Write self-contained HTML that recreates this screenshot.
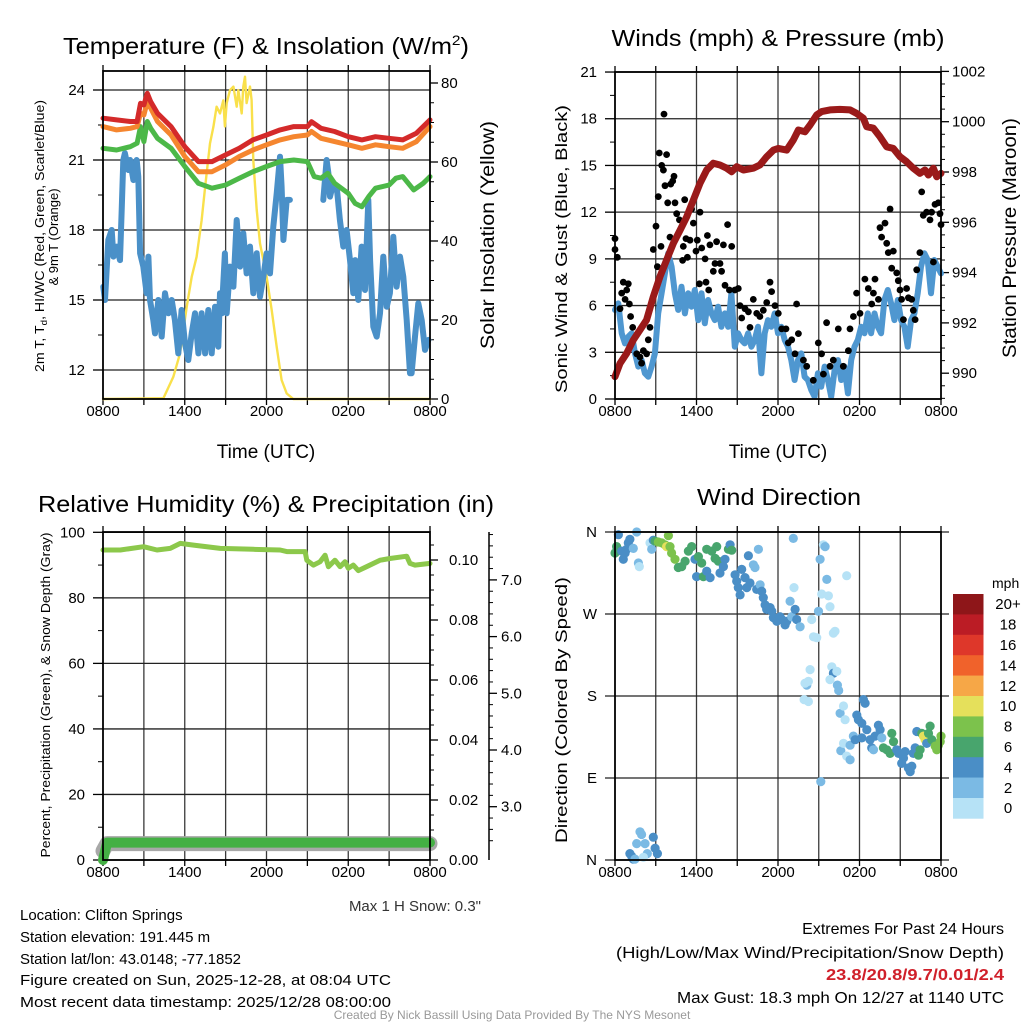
<!DOCTYPE html>
<html><head><meta charset="utf-8"><title>Mesonet station meteogram</title>
<style>
html,body{margin:0;padding:0;background:#fff;}
svg{display:block;font-family:"Liberation Sans",Arial,sans-serif;}
</style></head>
<body>
<svg id="chart" xmlns="http://www.w3.org/2000/svg" width="1024" height="1024" viewBox="0 0 1024 1024">
<rect x="0" y="0" width="1024" height="1024" fill="#fff"/>
<text x="266" y="54" text-anchor="middle" font-size="23" textLength="406" lengthAdjust="spacingAndGlyphs">Temperature (F) &amp; Insolation (W/m<tspan font-size="14" dy="-9">2</tspan><tspan dy="9">)</tspan></text>
<text x="778" y="46" text-anchor="middle" font-size="23" textLength="333" lengthAdjust="spacingAndGlyphs">Winds (mph) &amp; Pressure (mb)</text>
<text x="266" y="512" text-anchor="middle" font-size="23" textLength="456" lengthAdjust="spacingAndGlyphs">Relative Humidity (%) &amp; Precipitation (in)</text>
<text x="779" y="505" text-anchor="middle" font-size="23" textLength="164" lengthAdjust="spacingAndGlyphs">Wind Direction</text>

<text transform="translate(44,236) rotate(-90)" text-anchor="middle" font-size="13" textLength="272" lengthAdjust="spacingAndGlyphs">2m T, T<tspan font-size="9" dy="3">d</tspan><tspan dy="-3">, HI/WC (Red, Green, Scarlet/Blue)</tspan></text>
<text transform="translate(58,237) rotate(-90)" text-anchor="middle" font-size="13">&amp; 9m T (Orange)</text>
<text transform="translate(494,235) rotate(-90)" text-anchor="middle" font-size="19" textLength="228" lengthAdjust="spacingAndGlyphs">Solar Insolation (Yellow)</text>
<text transform="translate(567,249) rotate(-90)" text-anchor="middle" font-size="17" textLength="288" lengthAdjust="spacingAndGlyphs">Sonic Wind &amp; Gust (Blue, Black)</text>
<text transform="translate(1016,238) rotate(-90)" text-anchor="middle" font-size="19" textLength="240" lengthAdjust="spacingAndGlyphs">Station Pressure (Maroon)</text>
<text transform="translate(50,695) rotate(-90)" text-anchor="middle" font-size="13" textLength="325" lengthAdjust="spacingAndGlyphs">Percent, Precipitation (Green), &amp; Snow Depth (Gray)</text>
<text transform="translate(567,710) rotate(-90)" text-anchor="middle" font-size="17" textLength="266" lengthAdjust="spacingAndGlyphs">Direction (Colored By Speed)</text>

<text x="266" y="458" text-anchor="middle" font-size="19">Time (UTC)</text>
<text x="778" y="458" text-anchor="middle" font-size="19">Time (UTC)</text>
<text x="481" y="911" text-anchor="end" font-size="15" fill="#333">Max 1 H Snow: 0.3"</text>

<g font-size="15">
<text x="20" y="920">Location: Clifton Springs</text>
<text x="20" y="942">Station elevation: 191.445 m</text>
<text x="20" y="964">Station lat/lon: 43.0148; -77.1852</text>
<text x="20" y="985" textLength="371" lengthAdjust="spacingAndGlyphs">Figure created on Sun, 2025-12-28, at 08:04 UTC</text>
<text x="20" y="1007" textLength="371" lengthAdjust="spacingAndGlyphs">Most recent data timestamp: 2025/12/28 08:00:00</text>
</g>
<g font-size="16" text-anchor="end">
<text x="1004" y="934">Extremes For Past 24 Hours</text>
<text x="1004" y="958" textLength="388" lengthAdjust="spacingAndGlyphs">(High/Low/Max Wind/Precipitation/Snow Depth)</text>
<text x="1004" y="980" font-weight="bold" fill="#d0202a" textLength="178" lengthAdjust="spacingAndGlyphs">23.8/20.8/9.7/0.01/2.4</text>
<text x="1004" y="1003" textLength="327" lengthAdjust="spacingAndGlyphs">Max Gust: 18.3 mph On 12/27 at 1140 UTC</text>
</g>
<text x="512" y="1019" text-anchor="middle" font-size="12" fill="#999">Created By Nick Bassill Using Data Provided By The NYS Mesonet</text>
</svg>
<script>
// ---------- DATA ----------
const timeTickLabels = ["0800","1400","2000","0200","0800"];
const tempTicks = [12,15,18,21,24];
const solarTicks = [0,20,40,60,80];
const windTicks = [0,3,6,9,12,15,18,21];
const pressTicks = [990,992,994,996,998,1000,1002];
const rhTicks = [0,20,40,60,80,100];
const precipTicks = [0,0.02,0.04,0.06,0.08,0.10];
const snowTicks = [3,4,5,6,7];
const dirTicks = [0,90,180,270,360];
const dirTickLabels = ["N","E","S","W","N"];
const speedBins = ["0","2","4","6","8","10","12","14","16","18","20+"];
const speedColors = ["#b6e2f6","#7bbae4","#4a8ec6","#48a56d","#7cc24c","#e5e05b","#f6a747","#f0622b","#de372a","#bb1c25","#8e1619"];

const tempHours = [0,1,2,2.5,2.75,3,3.25,3.5,4,5,6,7,8,9,10,11,12,13,14,15,15.3,16,17,18,19,20,21,22,23,24];
const temp2m = [22.79,22.72,22.65,22.65,23.43,23.36,23.86,23.5,23.0,22.43,21.57,20.93,20.93,21.22,21.5,21.86,22.07,22.29,22.43,22.43,22.64,22.36,22.22,22.0,21.86,22.0,21.93,21.86,22.15,22.72];
const temp9m = [22.43,22.29,22.36,22.43,23.0,22.93,23.5,23.22,22.65,22.07,21.15,20.5,20.5,20.79,21.15,21.43,21.65,21.86,22.0,22.07,22.22,21.93,21.79,21.65,21.5,21.65,21.57,21.5,21.79,22.43];
const dewHours = [0,1,2,2.5,2.75,3,3.25,3.5,4,5,6,7,8,9,10,11,12,13,14,15,15.5,16,16.5,17,18,18.5,19,19.5,20,21,21.5,22,22.8,23.5,24];
const dewpoint = [21.5,21.43,21.57,21.72,22.43,21.79,22.65,22.36,21.93,21.5,20.72,20.0,19.79,19.93,20.22,20.5,20.72,20.93,21.0,20.93,20.29,20.22,20.43,20.0,19.57,19.14,19.0,19.43,19.79,19.93,20.22,20.29,19.72,20.0,20.29];
const hiHours = [0.02,0.15,0.39,0.64,0.76,1.0,1.25,1.37,1.49,1.61,1.86,1.98,2.23,2.35,2.47,2.59,2.72,2.96,3.2,3.33,3.45,3.69,3.82,4.06,4.31,4.55,4.8,5.04,5.28,5.53,5.77,6.02,6.26,6.51,6.75,7.0,7.24,7.49,7.73,7.98,8.22,8.46,8.59,8.71,8.95,9.08,9.32,9.57,9.81,10.06,10.3,10.54,10.79,11.03,11.28,11.52,11.77,12.01,12.26,12.5,12.75,12.99,13.11,13.24,13.48,13.72,14.9,16.17,16.41,16.54,16.66,16.9,17.15,17.39,17.64,17.88,18.13,18.37,18.5,18.74,18.98,19.23,19.47,19.6,19.84,20.09,20.33,20.57,20.82,21.06,21.31,21.55,21.8,22.04,22.29,22.53,22.65,22.9,23.14,23.39,23.63,23.88];
const heatIndexWindChill = [15.57,15.0,17.57,18.0,16.86,17.29,16.71,18.86,21.0,21.29,20.57,21.0,20.14,20.86,21.0,20.29,17.0,16.43,15.29,16.86,15.0,14.14,13.57,15.0,13.43,15.29,14.43,15.0,14.14,12.71,14.57,13.14,12.43,13.57,14.43,12.71,14.43,12.71,14.57,12.71,14.71,13.0,15.29,14.43,17.0,14.43,16.43,15.57,18.43,16.43,17.86,16.14,17.29,15.29,17.0,15.14,16.0,17.0,16.14,18.14,19.57,21.14,19.86,17.57,19.29,19.29,null,19.29,21.0,20.43,19.43,20.0,19.86,18.43,17.29,18.0,16.71,15.29,16.71,15.0,17.29,15.43,19.29,16.71,13.86,13.43,14.43,16.86,14.71,15.29,17.71,15.57,16.86,16.0,14.14,11.86,11.86,13.43,14.86,14.14,12.86,13.29];
const solarHours = [0,4.43,5.16,5.65,6.14,6.51,6.87,7.24,7.49,7.85,8.1,8.34,8.59,8.83,8.95,9.08,9.32,9.57,9.81,9.93,10.18,10.3,10.42,10.54,10.79,10.91,11.03,11.28,11.52,12.01,12.38,12.75,13.11,13.48,13.97,24];
const solar = [0,0.2,5.6,11.5,23.3,30.9,36,45.2,53.6,64.7,68.9,74,72.3,75.6,69,74.9,78.2,79.1,74,78.2,72.3,79.1,81.6,74.9,79.1,75.7,60.5,47.9,39.4,31,22.5,13.2,4.8,1.4,0,0];

const windSpeed = [5.72,6.14,4.22,3.57,4.0,4.22,2.93,2.08,2.5,1.65,1.43,2.08,2.93,5.5,6.79,8.07,9.36,8.5,6.79,5.72,7.21,5.5,6.79,5.93,7.0,5.07,6.79,4.86,6.36,5.5,5.07,5.93,4.64,5.5,4.64,6.79,3.36,4.22,3.79,3.57,4.22,3.36,3.79,4.64,1.65,4.22,5.07,4.64,5.5,4.22,4.64,3.79,3.36,2.5,1.22,2.5,2.93,1.43,1.22,0.58,0.15,1.65,0.79,2.08,1.22,0.15,1.86,2.5,1.22,2.08,0.36,2.5,3.36,3.79,4.64,4.22,5.5,4.22,5.5,4.64,4.22,6.36,7.0,6.14,5.07,6.36,5.07,4.64,3.36,5.07,5.5,6.79,8.5,9.36,8.93,6.79,8.93,8.5,8.07];
const gustHours = [0,0,0.17,0.37,0.49,0.61,0.74,0.86,0.98,1.06,1.15,1.3,1.6,1.84,1.96,2.09,2.33,2.45,2.58,2.82,3.02,3.12,3.19,3.26,3.39,3.44,3.56,3.61,3.68,3.8,3.88,4.05,4.1,4.25,4.34,4.42,4.54,4.74,4.98,5.03,5.13,5.23,5.33,5.52,5.64,5.77,5.96,6.06,6.21,6.26,6.38,6.63,6.7,6.8,6.9,6.99,7.24,7.36,7.48,7.73,7.85,7.98,8.1,8.29,8.42,8.59,8.83,9.08,9.2,9.33,9.57,9.82,9.94,10.18,10.43,10.67,10.92,11.17,11.41,11.53,11.78,12.02,12.27,12.59,12.76,13.01,13.25,13.37,13.5,13.87,14.11,14.6,14.97,15.21,15.34,15.58,15.83,16.07,16.44,16.81,17.18,17.3,17.55,17.79,18.04,18.4,18.65,18.9,19.02,19.14,19.39,19.51,19.63,19.88,20.0,20.12,20.25,20.37,20.49,20.74,20.86,20.98,21.1,21.23,21.47,21.6,21.84,21.96,22.09,22.21,22.45,22.58,22.7,22.94,23.19,23.31,23.44,23.56,23.8,23.93,24];
const gustSpeed = [10.3,9.6,9.1,5.8,6.8,7.5,6.4,7.0,7.4,6.1,5.3,4.6,2.9,2.7,2.3,3.1,2.9,3.8,4.6,9.6,11.1,8.5,13.0,15.8,9.8,15.0,14.7,18.3,13.7,15.7,12.6,10.4,13.8,14.0,14.3,12.6,11.9,11.5,8.9,9.8,12.8,10.3,9.1,10.2,12.2,11.3,9.5,10.2,7.4,12.0,9.7,9.0,7.5,10.5,7.0,9.9,8.2,8.7,10.1,8.7,8.2,9.9,7.3,11.2,7.0,9.8,7.0,7.1,6.0,5.2,5.8,5.6,4.6,6.4,5.5,5.3,5.7,6.2,7.5,6.9,6.0,5.5,4.5,4.5,3.6,3.8,2.9,6.1,4.2,2.5,2.1,1.2,3.6,2.9,1.6,4.9,2.1,2.5,4.5,2.1,3.1,4.5,5.3,6.8,5.5,7.7,7.1,6.1,6.8,7.7,6.4,11.0,10.4,11.3,10.0,9.4,12.2,8.4,9.5,8.1,7.6,7.0,6.4,5.1,7.1,6.5,6.4,5.7,5.1,8.3,9.4,13.3,11.8,12.0,11.5,12.0,8.8,12.5,12.6,11.9,11.2];
const pressHours = [0,0.37,0.86,1.35,1.84,2.33,2.82,3.31,3.8,4.29,4.79,5.28,5.77,6.26,6.75,7.24,7.73,8.22,8.59,8.96,9.45,10.18,10.67,11.17,11.66,12.02,12.64,13.13,13.5,13.99,14.36,14.85,15.21,15.83,16.56,17.3,17.79,18.28,18.53,19.02,19.51,20.0,20.49,20.98,21.47,21.96,22.45,22.82,23.07,23.44,23.68,24];
const pressure = [989.86,990.39,990.79,991.32,991.72,992.12,993.04,993.84,994.5,995.16,995.69,996.22,996.89,997.55,998.08,998.35,998.28,998.15,998.01,998.21,998.08,998.15,998.28,998.61,998.87,998.94,998.87,999.27,999.67,999.6,999.87,1000.27,1000.4,1000.47,1000.49,1000.47,1000.33,1000.14,999.8,999.74,999.4,999.0,998.94,998.61,998.41,998.15,997.95,998.08,997.88,998.15,997.81,997.95];

const rhHours = [0,1.27,2.98,3.96,4.93,5.67,6.64,8.6,11.04,13.0,13.49,14.83,14.96,15.44,15.93,16.3,16.54,17.03,17.4,17.76,18.0,18.37,18.74,19.35,20.33,21.06,22.29,22.53,22.9,24];
const relHumidity = [94.6,94.6,95.6,94.6,95.1,96.6,96.1,95.1,94.8,94.6,94.1,94.1,91.5,90.0,91.0,93.0,89.5,91.5,89.5,91.0,89.0,90.0,88.3,89.5,91.5,92.0,92.7,90.5,90.0,90.5];
const precipHours = [0,0.3,24];
const precip = [0,0.0058,0.0058];
const snowHours = [0,0.3,24];
const snowDepth = [2.22,2.35,2.35];

const dirHours = [0,0.12,0.25,0.49,0.61,0.74,0.86,0.98,1.1,1.35,1.6,1.72,1.79,2.58,2.7,2.82,2.95,3.19,3.44,3.68,3.8,3.93,4.05,4.17,4.42,4.66,4.91,5.16,5.4,5.65,5.89,6.01,6.14,6.38,6.51,6.75,7.0,6.75,7.12,7.49,7.37,7.61,7.73,7.98,8.1,8.35,8.47,8.59,8.84,8.96,9.08,9.21,9.33,9.57,9.7,9.82,9.94,10.19,10.31,10.43,10.56,10.68,10.8,10.92,11.05,11.17,11.42,11.54,11.66,11.91,12.15,12.28,12.52,12.64,12.89,13.01,13.13,13.18,13.26,13.38,13.63,14.12,13.99,14.24,14.36,14.24,13.92,14.48,14.61,14.85,14.98,15.1,15.22,15.34,15.47,15.59,15.71,15.83,16.08,16.2,15.96,16.08,15.83,16.33,16.37,16.47,16.57,16.82,16.94,17.06,16.62,16.82,17.06,17.31,17.31,17.55,17.68,17.8,17.92,18.17,18.29,18.41,18.17,18.54,18.78,18.9,19.03,19.15,19.39,19.52,19.64,19.76,20.01,20.25,20.38,20.5,20.74,20.87,21.11,21.24,21.36,21.6,21.73,21.85,21.97,22.1,22.22,22.34,22.46,22.59,22.71,22.83,22.95,23.08,23.2,23.32,23.57,23.69,23.81,23.94,24.0,15.15,1.1,1.23,1.35,1.47,1.6,1.84,1.96,2.21,2.38,2.09,2.82,2.95,3.12];
const dirDegrees = [337,344,357,339,330,337,341,348,352,342,360,326,322,348,341,351,350,349,348,346,344,356,344,337,330,321,322,328,339,344,330,311,333,326,311,317,310,341,339,344,331,328,315,322,330,341,346,340,313,306,299,291,319,310,299,334,304,324,321,297,341,302,295,288,280,275,277,273,266,262,267,264,258,262,284,267,353,299,275,264,256,192,194,196,209,174,176,264,245,244,273,330,292,346,344,308,290,278,249,251,212,205,198,207,192,186,161,169,154,312,120,128,114,110,126,136,132,159,154,134,176,172,150,143,132,123,121,136,148,143,134,123,121,117,139,130,121,117,106,112,119,101,97,103,117,123,141,115,121,139,136,132,128,139,147,132,125,121,126,130,136,86,7,4,1,1,18,31,28,18,7,3,25,13,7];
const dirSpeed = [7,7,5,5,5,5,5,5,5,3,3,3,1,1,3,5,7,9,9,9,11,9,9,9,9,7,7,7,7,7,5,5,7,7,7,5,5,7,7,7,7,7,5,5,5,7,5,7,5,5,5,5,5,5,5,5,5,3,3,5,3,3,5,5,5,5,5,5,5,5,5,5,5,5,3,3,3,1,5,5,3,3,1,1,1,1,1,1,1,1,3,3,1,1,3,3,1,1,1,1,1,5,1,1,3,3,3,1,1,1,3,1,1,3,3,3,5,5,5,5,5,5,5,5,5,5,3,5,5,5,3,7,7,7,7,7,5,5,5,5,5,5,5,5,5,5,5,7,7,7,11,11,5,7,7,7,9,9,9,9,9,3,5,5,5,3,3,3,3,3,3,1,5,5,5];

// ---------- HELPERS ----------
const NS = "http://www.w3.org/2000/svg";
const svg = document.getElementById("chart");
function mk(tag, parent){ const e = document.createElementNS(NS, tag); (parent||svg).appendChild(e); return e; }
function seg(p, x1,y1,x2,y2, stroke, w){ const e = mk("line", p); e.setAttribute("x1",x1); e.setAttribute("y1",y1); e.setAttribute("x2",x2); e.setAttribute("y2",y2); e.setAttribute("stroke",stroke); e.setAttribute("stroke-width",w); return e; }
function txt(p, x, y, s, anchor, size){ const e = mk("text", p); e.setAttribute("x",x); e.setAttribute("y",y); e.setAttribute("text-anchor",anchor); e.setAttribute("font-size",size||15); e.textContent = s; return e; }
function pathD(xs, ys, sx, sy){ let d="", pen=false; for(let i=0;i<xs.length;i++){ if(ys[i]===null){pen=false;continue;} d += (pen?"L":"M") + sx(xs[i]).toFixed(1) + "," + sy(ys[i]).toFixed(1); pen=true; } return d; }
function series(p, xs, ys, sx, sy, color, w, name){ const e = mk("path", p); e.setAttribute("d", pathD(xs,ys,sx,sy)); e.setAttribute("fill","none"); e.setAttribute("stroke",color); e.setAttribute("stroke-width",w); e.setAttribute("stroke-linejoin","round"); e.setAttribute("stroke-linecap","round");
  
  
  return e; }

function frame(P, name){
  const g = mk("g");
  
  
  for(let h=0; h<=24; h+=3){
    const x = P.sx(h);
    if(h>0 && h<24){ const gl = seg(g, x, P.y0, x, P.y1, "#3a3a3a", 1.3);
      
       }
    const t1 = seg(g, x, P.y0, x, P.y0-6, "#000", 1.3);
    
    
    const t2 = seg(g, x, P.y1, x, P.y1+6, "#000", 1.3);
    
    
  }
  timeTickLabels.forEach((s,i)=>{ const l = txt(g, P.sx(i*6), P.y1+17, s, "middle", 15);
    
     });
  return g;
}
function box(g, P){ const r = mk("rect", g); r.setAttribute("x",P.x0); r.setAttribute("y",P.y0); r.setAttribute("width",P.x1-P.x0); r.setAttribute("height",P.y1-P.y0); r.setAttribute("fill","none"); r.setAttribute("stroke","#000"); r.setAttribute("stroke-width",1.8);
  
   }
function leftAxis(g, P, ticks, labels, minorStep, lo, hi, sy, grid){
  ticks.forEach((v,i)=>{ const y = sy(v);
    if(grid){ const gl = seg(g, P.x0, y, P.x1, y, "#222", 1.3);
      
       }
    const t = seg(g, P.x0-10, y, P.x0, y, "#000", 1.3);
    
    
    const l = txt(g, P.x0-18, y+5, labels[i], "end", 15);
    
     });
  if(minorStep){ for(let v=lo; v<=hi+1e-9; v+=minorStep){ if(ticks.some(t=>Math.abs(t-v)<1e-6)) continue; const y=sy(v); if(y<P.y0-0.5||y>P.y1+0.5) continue;
    const m = seg(g, P.x0-5, y, P.x0, y, "#000", 1);
    
     } }
}
function rightAxis(g, ax, y0, y1, ticks, labels, minorStep, lo, hi, sy, labelX){
  ticks.forEach((v,i)=>{ const y = sy(v);
    const t = seg(g, ax, y, ax+8, y, "#000", 1.3);
    
    
    const l = txt(g, labelX, y+5, labels[i], "start", 15);
    
     });
  for(let v=lo; v<=hi+1e-9; v+=minorStep){ if(ticks.some(t=>Math.abs(t-v)<1e-6)) continue; const y=sy(v); if(y<y0-0.5||y>y1+0.5) continue;
    const m = seg(g, ax, y, ax+4, y, "#000", 1);
    
     }
}

// ---------- PANEL 1 ----------
const P1 = {x0:103,x1:430,y0:71,y1:399};
P1.sx = h => P1.x0 + h*(P1.x1-P1.x0)/24;
const yT = v => 90 + (24-v)*70/3;
const yS = w => 399 - w*316/80;
(function(){
  const g = frame(P1, "temperature-panel");
  leftAxis(g, P1, tempTicks, tempTicks.map(String), 1.5, 10.5, 25.5, yT, true);
  rightAxis(g, P1.x1, P1.y0, P1.y1, solarTicks, solarTicks.map(String), 5, 0, 85, yS, 441);
  series(g, solarHours, solar, P1.sx, yS, "#f9e04b", 2.4, "solar-insolation-line");
  series(g, hiHours, heatIndexWindChill, P1.sx, yT, "#4a90c8", 6, "heat-index-wind-chill-line");
  series(g, dewHours, dewpoint, P1.sx, yT, "#4cb848", 5, "dewpoint-line");
  series(g, tempHours, temp9m, P1.sx, yT, "#f5862f", 5, "temperature-9m-line");
  series(g, tempHours, temp2m, P1.sx, yT, "#d42a2a", 5, "temperature-2m-line");
  box(g, P1);
})();

// ---------- PANEL 2 ----------
const P2 = {x0:615,x1:941,y0:72,y1:399};
P2.sx = h => P2.x0 + h*(P2.x1-P2.x0)/24;
const yW = v => 399 - v*15.57;
const yP = p => 121.7 - (p-1000)*25.15;
(function(){
  const g = frame(P2, "wind-panel");
  leftAxis(g, P2, windTicks, windTicks.map(String), 1.5, 0, 21, yW, true);
  rightAxis(g, P2.x1, P2.y0, P2.y1, pressTicks, pressTicks.map(String), 0.5, 989, 1002, yP, 952);
  const wh = windSpeed.map((v,i)=> i*24/(windSpeed.length-1));
  series(g, wh, windSpeed, P2.sx, yW, "#4f97d0", 6, "sonic-wind-line");
  gustHours.forEach((h,i)=>{ const c = mk("circle", g); c.setAttribute("cx", P2.sx(h).toFixed(1)); c.setAttribute("cy", yW(gustSpeed[i]).toFixed(1)); c.setAttribute("r", 3.4); c.setAttribute("fill", "#000");
    
     });
  series(g, pressHours, pressure, P2.sx, yP, "#9a1a1a", 7, "station-pressure-line");
  box(g, P2);
})();

// ---------- PANEL 3 ----------
const P3 = {x0:103,x1:430,y0:532,y1:860};
P3.sx = h => P3.x0 + h*(P3.x1-P3.x0)/24;
const yRH = v => 860 - v*3.277;
const yPr = p => 860 - p*3000;
const ySn = s => 806.7 - (s-3)*56.7;
(function(){
  const g = frame(P3, "humidity-panel");
  leftAxis(g, P3, rhTicks, rhTicks.map(String), 10, 0, 100, yRH, true);
  rightAxis(g, P3.x1, P3.y0, P3.y1, precipTicks, precipTicks.map(v=>v.toFixed(2)), 0.005, 0, 0.105, yPr, 449);
  const ax = seg(g, 489, 532, 489, 860, "#000", 1.5);
  
  
  rightAxis(g, 489, 532, 860, snowTicks, snowTicks.map(v=>v.toFixed(1)), 0.2, 2.4, 7.8, ySn, 501);
  series(g, snowHours, snowDepth, P3.sx, ySn, "#a8a8a8", 15, "snow-depth-line");
  series(g, precipHours, precip, P3.sx, yPr, "#44b044", 10, "precipitation-line");
  series(g, rhHours, relHumidity, P3.sx, yRH, "#8cc84b", 5, "relative-humidity-line");
  box(g, P3);
})();

// ---------- PANEL 4 ----------
const P4 = {x0:615,x1:941,y0:532,y1:860};
P4.sx = h => P4.x0 + h*(P4.x1-P4.x0)/24;
const yD = d => 860 - d*(860-532)/360;
function speedColor(s){ let i = Math.floor(s/2); if(i>10) i=10; if(i<0) i=0; return speedColors[i]; }
(function(){
  const g = frame(P4, "wind-direction-panel");
  dirTicks.forEach((d,i)=>{ const y = yD(d);
    const gl = seg(g, P4.x0-10, y, P4.x1+8, y, "#222", 1.3);
    
    
    const l = txt(g, P4.x0-18, y+5, dirTickLabels[i], "end", 15);
    
     });
  dirHours.forEach((h,i)=>{ const c = mk("circle", g); c.setAttribute("cx", P4.sx(h).toFixed(1)); c.setAttribute("cy", yD(dirDegrees[i]).toFixed(1)); c.setAttribute("r", 4.6); c.setAttribute("fill", speedColor(dirSpeed[i]));
    
     });
  box(g, P4);
  const cb = mk("g");
  
  
  const top = 594, ch = 20.4;
  const ut = txt(cb, 992, 588, "mph", "start", 14);
  
  
  speedBins.forEach((lab, k)=>{ const idx = speedBins.length-1-k; const y = top + k*ch;
    const r = mk("rect", cb); r.setAttribute("x", 953); r.setAttribute("y", y.toFixed(1)); r.setAttribute("width", 30.5); r.setAttribute("height", (ch+0.3).toFixed(1)); r.setAttribute("fill", speedColors[idx]);
    
    
    const l = txt(cb, 1008, y+ch/2+5, speedBins[idx], "middle", 15);
    
     });
})();
</script>
</body></html>
